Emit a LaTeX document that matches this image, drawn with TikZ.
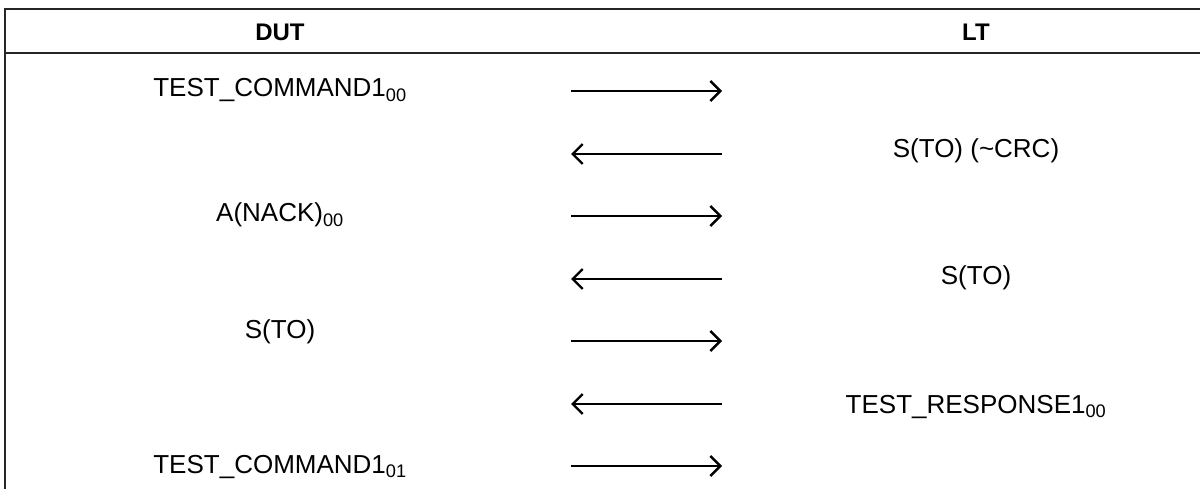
\documentclass[tikz,border=0pt]{standalone}
\usepackage{fontspec}
\setmainfont{Liberation Sans}
\usetikzlibrary{arrows.meta}
\begin{document}
\begin{tikzpicture}[x=1pt,y=-1pt,
  msg/.style={line width=2.4pt, -{Straight Barb[length=10pt,width=20pt,line width=2.4pt]}},
  lbl/.style={anchor=base, inner sep=0pt, font=\fontsize{26}{30}\selectfont},
  hdr/.style={anchor=base, inner sep=0pt, font=\fontsize{24}{28}\selectfont\bfseries}]
  \useasboundingbox (0,0) rectangle (1200,489);
  % table frame
  \draw[line width=2pt, black!85] (1200,9) -- (5,9) -- (5,489);
  \draw[line width=2pt, black!85] (5,53) -- (1200,53);
  \node[hdr] (dut) at (280,41) {DUT};
  \node[hdr] (lt) at (976,41) {LT};
  % message ends
  \foreach \i/\y in {1/91,2/154,3/216,4/279,5/341,6/404,7/466} {
    \coordinate (a\i) at (571,\y);
    \coordinate (b\i) at (722,\y);
  }
  \foreach \i in {1,3,5,7} \draw[msg] (a\i) -- (b\i);
  \foreach \i in {2,4,6} \draw[msg] (b\i) -- (a\i);
  % labels
  \node[lbl] (cmd1) at (280,97) {TEST\_COMMAND1\textsubscript{00}};
  \node[lbl] (crc) at (976,158) {S(TO) (\textasciitilde CRC)};
  \node[lbl] (nack) at (280,222) {A(NACK)\textsubscript{00}};
  \node[lbl] (to1) at (976,285) {S(TO)};
  \node[lbl] (to2) at (280,338) {S(TO)};
  \node[lbl] (rsp) at (976,413) {TEST\_RESPONSE1\textsubscript{00}};
  \node[lbl] (cmd2) at (280,473) {TEST\_COMMAND1\textsubscript{01}};
\end{tikzpicture}
\end{document}
